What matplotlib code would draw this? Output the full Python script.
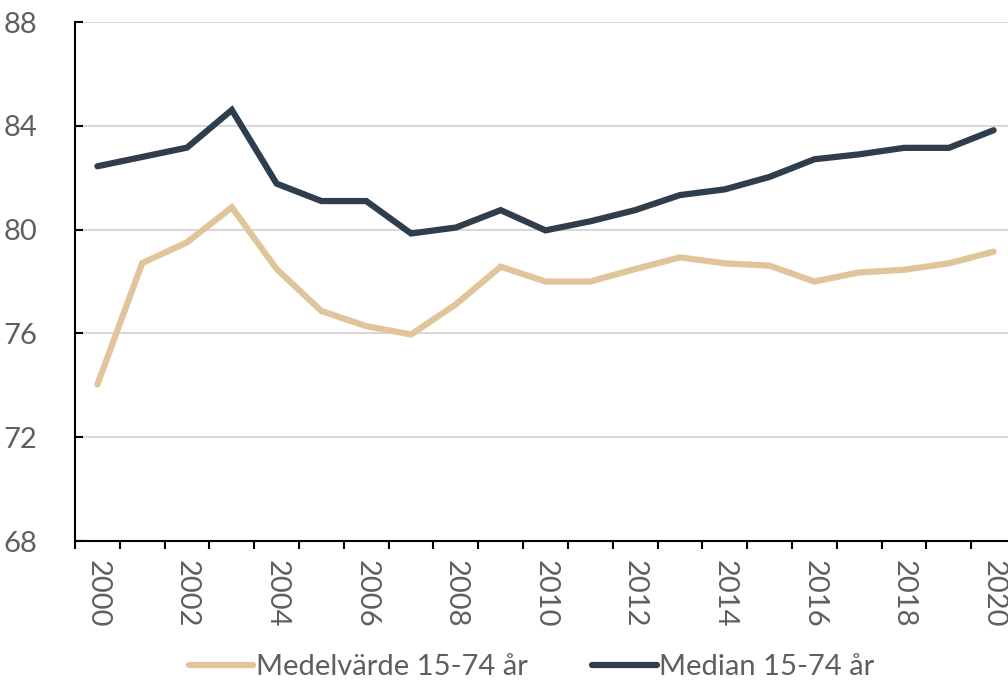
import matplotlib
matplotlib.use("Agg")
import matplotlib.pyplot as plt
import numpy as np

years = list(range(2000, 2021))
medel = [74.03, 78.71, 79.51, 80.86, 78.48, 76.86, 76.28, 75.96, 77.12, 78.57,
         78.0, 78.0, 78.48, 78.93, 78.70, 78.61, 78.0, 78.35, 78.45, 78.70, 79.15]
median = [82.44, 82.8, 83.16, 84.61, 81.77, 81.10, 81.10, 79.85, 80.08, 80.75,
          79.97, 80.32, 80.75, 81.33, 81.55, 82.03, 82.71, 82.9, 83.15, 83.15, 83.83]
labels = ["Medelvärde 15-74 år", "Median 15-74 år"]
yticks = [68, 72, 76, 80, 84, 88]

TAN = "#E0C59A"
DARK = "#2E3E4C"
GRAY = "#5F5F5F"

plt.rcParams['font.family'] = ['Lato', 'DejaVu Sans']

fig = plt.figure(figsize=(10.08, 6.93), dpi=100)
ax = fig.add_axes([75/1008, (693-541)/693, 941/1008, 519/693])

x = np.arange(len(years))
ax.plot(x, medel, color=TAN, lw=4.5, solid_capstyle='round', solid_joinstyle='miter', label=labels[0], zorder=3)
ax.plot(x, median, color=DARK, lw=4.5, solid_capstyle='round', solid_joinstyle='miter', label=labels[1], zorder=3)

ax.set_xlim(-0.5, len(years) - 0.5)
ax.set_ylim(68, 88)
ax.set_yticks(yticks)
ax.set_yticklabels([str(v) for v in yticks])
ax.tick_params(axis='y', direction='in', length=6, width=1.5, colors='black',
               labelcolor=GRAY, labelsize=21, pad=27)

ax.set_xticks(np.arange(-0.5, len(years) + 0.5, 1.0))
ax.set_xticklabels([])
ax.tick_params(axis='x', which='major', direction='out', length=6, width=1.5, colors='black')
ax.set_xticks(x[::2], minor=True)
ax.set_xticklabels([str(y) for y in years[::2]], minor=True, rotation=270,
                   color=GRAY, fontsize=21)
ax.tick_params(axis='x', which='minor', length=0, pad=14)

ax.grid(axis='y', color='#D9D9D9', lw=1.5, zorder=0)
ax.set_axisbelow(True)
for s in ['top', 'right']:
    ax.spines[s].set_visible(False)
for s in ['left', 'bottom']:
    ax.spines[s].set_linewidth(1.5)
    ax.spines[s].set_color('black')

leg = fig.legend(loc='center', bbox_to_anchor=(532/1008, 1 - 667/693), ncol=2,
                 frameon=False, fontsize=21, handlelength=2.2, handletextpad=0.1,
                 columnspacing=2.2, labelcolor=GRAY)
for h in leg.get_lines():
    h.set_linewidth(4.5)
    h.set_solid_capstyle('round')

fig.savefig("out.png", dpi=100)
